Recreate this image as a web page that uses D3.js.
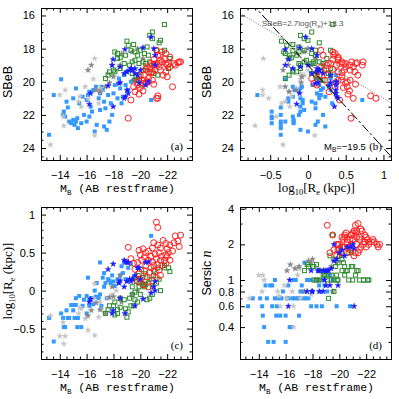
<!DOCTYPE html>
<html>
<head>
<meta charset="utf-8">
<script src="https://cdn.jsdelivr.net/npm/d3@7"></script>
<style>
  body { margin: 0; background: #fff; }
</style>
</head>
<body>
<div id="chart"></div>
<script>
// every row: [M_B, log10 Re (kpc), SBeB, Sersic n]
const blueSquares = [
  [-13.2, -0.36, 23.2, 0.6], [-13.55, -0.67, 20.8, 0.7], [-14.1, -0.3, 19.85, 0.7], [-14.25, -0.36, 22.0, 0.6],
  [-14.3, -0.48, 21.8, 0.5], [-14.4, -0.48, 22.1, 0.4], [-14.5, -0.26, 21.2, 0.9], [-14.6, -0.36, 21.55, 0.7],
  [-14.7, -0.36, 22.4, 0.3], [-14.85, -0.19, 22.5, 0.9], [-15.0, -0.19, 22.3, 0.9], [-15.1, -0.36, 22.6, 0.3],
  [-15.2, -0.19, 22.4, 1.0], [-15.3, -0.48, 22.2, 0.5], [-15.35, -0.36, 22.8, 0.6], [-15.45, -0.07, 21.3, 0.7],
  [-15.6, -0.48, 22.5, 0.5], [-15.7, -0.2, 20.9, 0.7], [-15.2, -0.1, 20.4, 0.7], [-15.0, -0.26, 21.0, 0.6],
  [-16.0, -0.07, 21.1, 0.3], [-16.1, 0.17, 20.8, 0.7], [-16.3, -0.1, 21.5, 0.4], [-16.2, -0.2, 22.1, 0.7],
  [-16.4, -0.1, 21.8, 0.4], [-16.5, -0.18, 20.5, 0.7], [-16.6, 0.0, 23.0, 1.0], [-16.75, 0.1, 22.6, 1.0],
  [-16.9, -0.1, 21.0, 0.7], [-17.0, 0.37, 20.7, 0.5], [-17.1, -0.2, 20.3, 0.8], [-17.2, 0.17, 20.5, 0.9],
  [-17.3, 0.05, 21.2, 0.8], [-17.4, 0.1, 21.6, 1.4], [-17.6, 0.15, 20.8, 1.0], [-17.7, 0.13, 22.4, 0.7],
  [-17.8, 0.1, 21.3, 1.0], [-17.9, 0.2, 22.0, 0.6], [-17.5, -0.1, 22.9, 0.7], [-18.0, 0.12, 20.7, 0.8],
  [-18.1, 0.06, 20.2, 1.0], [-18.3, 0.15, 21.0, 0.6], [-18.4, 0.1, 19.8, 1.0], [-18.5, 0.2, 20.4, 0.9],
  [-18.7, 0.23, 20.9, 0.6], [-18.8, 0.37, 19.6, 1.0], [-18.9, 0.15, 20.2, 0.9], [-19.0, 0.13, 19.4, 1.2],
  [-19.1, 0.3, 20.5, 0.8], [-19.3, 0.35, 20.0, 1.1], [-19.5, 0.17, 19.9, 1.0], [-18.6, 0.32, 21.3, 0.8],
  [-19.8, 0.3, 19.8, 0.6], [-20.8, 0.72, 21.1, 0.6], [-16.7, -0.08, 20.3, 0.7], [-17.0, -0.05, 21.7, 0.7],
  [-16.0, -0.3, 22.4, 0.5], [-15.8, -0.12, 22.0, 0.8], [-16.2, -0.12, 20.6, 0.9], [-17.3, 0.23, 22.7, 0.7]
];

const lightStars = [
  [-13.3, -0.33, 23.8, 0.7], [-14.0, -0.6, 20.8, 1.1], [-14.25, -0.42, 22.1, 0.8], [-14.4, -0.6, 20.5, 1.0],
  [-14.3, -0.7, 22.66, 1.1], [-15.5, -0.22, 20.9, 0.73], [-15.4, -0.3, 21.2, 0.8], [-15.6, -0.24, 21.5, 0.6],
  [-16.6, -0.59, 18.6, 0.6], [-16.6, 0.09, 23.24, 0.4], [-16.5, -0.1, 19.84, 0.8], [-17.0, -0.15, 20.4, 1.25],
  [-17.1, -0.25, 20.6, 0.7], [-17.6, -0.1, 19.5, 0.8], [-17.9, -0.05, 19.6, 0.75], [-16.1, -0.52, 21.0, 0.7],
  [-15.9, -0.37, 20.3, 0.9], [-16.9, -0.35, 21.3, 1.1], [-18.2, 0.0, 19.3, 1.0]
];

const darkStars = [
  [-16.1, -0.33, 19.3, 1.2], [-16.35, -0.26, 19.0, 1.35], [-16.7, -0.16, 20.5, 1.25], [-17.0, -0.25, 20.6, 1.3],
  [-17.7, -0.09, 20.06, 1.45], [-17.9, 0.05, 19.0, 1.4], [-18.6, -0.15, 18.3, 1.2], [-19.4, -0.05, 18.2, 1.3],
  [-19.8, 0.0, 18.0, 1.4], [-20.2, 0.1, 18.6, 1.6], [-18.5, 0.2, 19.0, 1.0], [-19.5, 0.15, 19.9, 0.8],
  [-17.4, -0.3, 20.3, 0.8], [-18.0, -0.08, 19.7, 1.5]
];

const greenSquares = [
  [-21.8, 0.33, 16.55, 1.0], [-21.4, 0.15, 17.65, 1.2], [-21.8, 0.3, 18.1, 1.0], [-20.7, -0.1, 17.2, 1.7],
  [-20.9, -0.05, 17.4, 1.3], [-19.0, -0.35, 17.55, 1.1], [-19.1, -0.28, 17.8, 1.0], [-19.5, -0.2, 17.75, 2.4],
  [-19.6, -0.12, 18.2, 1.5], [-20.0, -0.05, 18.1, 1.6], [-20.3, 0.05, 18.3, 1.4], [-20.6, 0.1, 18.4, 1.2],
  [-18.1, -0.32, 18.2, 1.3], [-18.3, -0.3, 18.3, 1.35], [-18.3, -0.25, 18.6, 1.0], [-18.5, -0.22, 18.55, 1.0],
  [-18.0, -0.2, 19.3, 1.3], [-18.1, -0.15, 19.4, 1.0], [-18.5, -0.1, 19.2, 1.2], [-18.8, -0.12, 18.9, 1.1],
  [-19.2, -0.1, 19.0, 0.7], [-19.4, -0.05, 18.8, 1.1], [-19.6, -0.02, 18.7, 1.0], [-19.9, 0.05, 18.9, 1.4],
  [-20.2, 0.07, 18.8, 1.2], [-20.4, 0.08, 18.9, 1.1], [-20.7, 0.15, 18.8, 1.0], [-21.0, 0.2, 18.9, 1.3],
  [-19.4, 0.05, 19.5, 1.0], [-19.6, 0.17, 19.9, 0.8], [-19.7, 0.12, 19.7, 1.3], [-19.9, 0.1, 19.6, 1.0],
  [-20.2, 0.17, 19.3, 1.5], [-20.4, 0.22, 19.3, 1.3], [-17.4, -0.3, 19.8, 1.2], [-17.6, -0.25, 19.6, 1.35],
  [-17.7, -0.2, 19.4, 1.3], [-20.1, 0.28, 20.2, 1.9], [-21.0, 0.27, 19.5, 1.0], [-21.3, 0.3, 19.6, 1.2],
  [-22.1, 0.3, 19.2, 1.0], [-19.84, 0.2, 19.9, 1.0], [-20.5, -0.12, 17.9, 1.2], [-19.3, -0.2, 18.1, 1.6],
  [-18.9, -0.24, 18.4, 1.1], [-21.5, 0.0, 17.5, 1.0], [-20.9, 0.05, 17.0, 1.7], [-19.8, -0.15, 18.4, 1.1],
  [-21.2, 0.1, 18.1, 1.1], [-22.2, 0.25, 18.6, 1.0]
];

const redCircles = [
  [-21.2, 0.90, 21.0, 2.9], [-21.3, 0.83, 20.85, 2.6], [-22.6, 0.72, 19.0, 2.1], [-23.0, 0.73, 18.8, 2.0],
  [-22.8, 0.65, 18.85, 2.0], [-22.5, 0.63, 18.9, 2.2], [-22.9, 0.58, 18.8, 1.9], [-22.2, 0.60, 19.1, 2.1],
  [-21.9, 0.62, 19.4, 2.4], [-21.7, 0.66, 19.6, 2.6], [-21.5, 0.56, 19.3, 2.2], [-22.0, 0.55, 19.0, 2.3],
  [-21.0, 0.63, 20.15, 2.5], [-20.9, 0.56, 19.9, 2.4], [-19.1, 0.57, 22.2, 2.9], [-19.9, 0.53, 20.75, 1.8],
  [-20.2, 0.55, 20.55, 2.3], [-20.4, 0.50, 20.1, 2.4], [-20.6, 0.52, 20.0, 2.2], [-20.0, 0.47, 20.35, 2.0],
  [-20.3, 0.44, 19.9, 1.9], [-20.8, 0.45, 19.45, 2.2], [-21.1, 0.48, 19.3, 2.6], [-21.4, 0.50, 19.1, 3.0],
  [-21.6, 0.45, 18.8, 2.7], [-21.9, 0.47, 18.9, 2.1], [-22.1, 0.50, 18.9, 2.2], [-21.8, 0.40, 18.6, 2.0],
  [-21.5, 0.40, 18.7, 2.3], [-21.2, 0.42, 18.9, 2.5], [-20.9, 0.38, 19.0, 2.4], [-20.6, 0.40, 19.4, 2.1],
  [-20.1, 0.40, 19.9, 1.7], [-19.8, 0.37, 20.05, 2.0], [-19.5, 0.36, 20.3, 2.4], [-20.4, 0.33, 19.25, 2.3],
  [-20.8, 0.30, 18.9, 1.8], [-21.0, 0.33, 18.65, 2.2], [-21.3, 0.34, 18.4, 2.0], [-21.6, 0.33, 18.2, 1.9],
  [-21.9, 0.36, 18.3, 2.1], [-22.2, 0.40, 18.5, 2.0], [-21.4, 0.27, 18.9, 1.7], [-21.1, 0.25, 19.0, 1.6],
  [-20.7, 0.24, 19.2, 1.9], [-20.3, 0.26, 19.6, 2.2], [-19.9, 0.22, 19.9, 2.0], [-20.0, 0.15, 19.6, 1.8],
  [-19.8, 0.12, 20.2, 1.6], [-20.5, 0.18, 19.1, 2.5], [-21.2, 0.17, 18.1, 1.7], [-21.5, 0.20, 18.4, 1.8],
  [-20.2, 0.08, 20.1, 1.9], [-20.9, 0.13, 19.4, 2.0], [-19.6, 0.28, 20.6, 1.8], [-20.6, 0.05, 19.8, 1.7],
  [-22.4, 0.52, 20.3, 2.1], [-22.0, 0.45, 19.7, 1.9], [-21.3, 0.60, 21.0, 2.3], [-19.3, 0.42, 21.1, 1.7]
];

const blueStars = [
  [-20.8, -0.03, 17.3, 1.9], [-18.85, -0.3, 18.05, 1.2], [-20.2, -0.11, 17.95, 1.8], [-21.0, 0.05, 18.0, 2.0],
  [-21.1, 0.12, 18.4, 1.85], [-17.97, -0.26, 18.65, 0.8], [-18.5, -0.1, 19.1, 1.2], [-18.8, 0.05, 19.5, 1.2],
  [-19.0, 0.12, 19.4, 1.2], [-19.2, 0.15, 19.3, 1.2], [-19.3, 0.12, 19.2, 0.9], [-19.4, 0.15, 19.3, 1.25],
  [-19.6, 0.2, 19.5, 1.45], [-19.8, 0.3, 19.6, 1.5], [-20.0, 0.15, 19.3, 1.7], [-17.6, 0.28, 20.24, 0.8],
  [-17.98, 0.35, 21.5, 0.8], [-18.4, 0.1, 20.1, 1.2], [-18.5, 0.13, 20.05, 0.8], [-19.0, 0.37, 20.5, 0.9],
  [-19.1, 0.37, 20.7, 1.2], [-18.8, 0.4, 21.0, 0.8], [-18.9, 0.38, 20.9, 1.0], [-16.3, -0.11, 20.7, 1.0],
  [-16.2, -0.15, 21.35, 0.6], [-19.9, 0.3, 20.06, 0.9], [-20.6, 0.38, 20.0, 1.9], [-20.4, 0.37, 20.2, 1.6],
  [-21.1, 0.0, 19.0, 0.6], [-17.9, -0.3, 19.0, 1.2], [-19.6, -0.2, 19.2, 2.0]
];

// tick labels
const mbTicks = [-14, -16, -18, -20, -22];
const sbTicks = [16, 18, 20, 22, 24];
const reTicks = [-0.5, 0, 0.5, 1];
const nTicks = [0.4, 0.6, 0.8, 1, 2, 4];
const nMinor = [0.3, 0.5, 0.7, 0.9, 1.5, 3];

// fit lines in panel (b)
const fitSlope = 2.7, fitZero = 18.3;
const cutMag = -19.5, cutZero = 38.5;

const W = 151, H = 152;

let xMB = d3.scaleLinear().domain([-12.6, -23.85]).range([0, W]);
let ySB = d3.scaleLinear().domain([15.55, 24.72]).range([0, H]);
let xRe = d3.scaleLinear().domain([-0.9, 1.1]).range([0, W]);
let yRe = d3.scaleLinear().domain([-0.9, 1.1]).range([H, 0]);
let yN = d3.scaleLog().domain([0.215, 4.14]).range([H, 0]);

let mbMinor = d3.range(-13, -23.6, -0.5).filter(v => v % 2 !== 0);
let sbMinor = d3.range(16, 24.6, 0.5).filter(v => v % 2 !== 0);
let reMinor = d3.range(-8, 11, 1).filter(v => v % 5 !== 0).map(v => v / 10);

const svg = d3.select('#chart').append('svg')
  .attr('width', 399)
  .attr('height', 399)
  .style('font-family', 'Liberation Sans, Arial, sans-serif');

const panels = [
  { tag: '(a)', left: 41, top: 8, x: xMB, y: ySB, xv: d => d[0], yv: d => d[2],
    xt: mbTicks, xm: mbMinor, yt: sbTicks, ym: sbMinor, xTitle: 'mb', yTitle: 'sb' },
  { tag: '(b)', left: 240, top: 8, x: xRe, y: ySB, xv: d => d[1], yv: d => d[2],
    xt: reTicks, xm: reMinor, yt: sbTicks, ym: sbMinor, xTitle: 're', yTitle: 'sb' },
  { tag: '(c)', left: 41, top: 207, x: xMB, y: yRe, xv: d => d[0], yv: d => d[1],
    xt: mbTicks, xm: mbMinor, yt: reTicks, ym: reMinor, xTitle: 'mb', yTitle: 're' },
  { tag: '(d)', left: 240, top: 207, x: xMB, y: yN, xv: d => d[0], yv: d => d[3],
    xt: mbTicks, xm: mbMinor, yt: nTicks, ym: nMinor, xTitle: 'mb', yTitle: 'n' }
];

const groups = [
  { data: blueSquares, type: 'fill', color: '#3399ff' },
  { data: lightStars, type: 'star', color: '#c4c4c4', size: 10 },
  { data: darkStars, type: 'star', color: '#858585', size: 10 },
  { data: greenSquares, type: 'open', color: '#2e8b2e' },
  { data: redCircles, type: 'circle', color: '#ff1f1f' },
  { data: blueStars, type: 'star', color: '#1a1aff', size: 10 }
];

const fmt = d3.format('~g');

function drawAxes(g, p) {
  let tidy = a => a.select('.domain').remove();
  let style = a => a.attr('font-family', 'Liberation Sans, Arial, sans-serif').attr('font-size', 11);

  g.append('g').attr('transform', `translate(0,${H})`)
    .call(d3.axisBottom(p.x).tickValues(p.xt).tickSize(-5).tickSizeOuter(0).tickPadding(11).tickFormat(fmt))
    .call(tidy).call(style);
  g.append('g').attr('transform', `translate(0,${H})`)
    .call(d3.axisBottom(p.x).tickValues(p.xm).tickSize(-2.5).tickSizeOuter(0).tickFormat(''))
    .call(tidy);
  g.append('g')
    .call(d3.axisTop(p.x).tickValues(p.xt).tickSize(-5).tickSizeOuter(0).tickFormat(''))
    .call(tidy);
  g.append('g')
    .call(d3.axisTop(p.x).tickValues(p.xm).tickSize(-2.5).tickSizeOuter(0).tickFormat(''))
    .call(tidy);

  g.append('g')
    .call(d3.axisLeft(p.y).tickValues(p.yt).tickSize(-5).tickSizeOuter(0).tickPadding(6).tickFormat(fmt))
    .call(tidy).call(style);
  g.append('g')
    .call(d3.axisLeft(p.y).tickValues(p.ym).tickSize(-2.5).tickSizeOuter(0).tickFormat(''))
    .call(tidy);
  g.append('g').attr('transform', `translate(${W},0)`)
    .call(d3.axisRight(p.y).tickValues(p.yt).tickSize(-5).tickSizeOuter(0).tickFormat(''))
    .call(tidy);
  g.append('g').attr('transform', `translate(${W},0)`)
    .call(d3.axisRight(p.y).tickValues(p.ym).tickSize(-2.5).tickSizeOuter(0).tickFormat(''))
    .call(tidy);

  g.append('rect')
    .attr('x', 0.5).attr('y', 0.5)
    .attr('width', W).attr('height', H)
    .attr('fill', 'none')
    .attr('stroke', '#000')
    .attr('stroke-width', 1);
}

function xTitle(g, kind) {
  let t = g.append('text')
    .attr('x', W / 2 + 1)
    .attr('y', H + 32)
    .attr('text-anchor', 'middle')
    .attr('fill', '#000');
  if (kind === 'mb') {
    t.attr('font-family', 'Liberation Mono, Courier New, monospace').attr('font-size', 11.5);
    t.append('tspan').text('M');
    t.append('tspan').attr('font-size', 7.5).attr('dy', 2.5).text('B');
    t.append('tspan').attr('dy', -2.5).text(' (AB restframe)');
  } else {
    reTitle(t);
  }
}

function reTitle(t) {
  t.attr('font-family', 'Liberation Serif, Times New Roman, serif').attr('font-size', 13);
  t.append('tspan').text('log');
  t.append('tspan').attr('font-size', 8.5).attr('dy', 3).text('10');
  t.append('tspan').attr('dy', -3).text('[R');
  t.append('tspan').attr('font-size', 8.5).attr('dy', 3).text('e');
  t.append('tspan').attr('dy', -3).text(' (kpc)]');
}

function yTitle(g, kind) {
  let cy = kind === 'n' ? H / 2 - 10 : H / 2 - 2;
  let t = g.append('text')
    .attr('transform', `translate(-29,${cy}) rotate(-90)`)
    .attr('text-anchor', 'middle')
    .attr('fill', '#000');
  if (kind === 'sb') {
    t.attr('font-size', 12.5).text('SBeB');
  } else if (kind === 'n') {
    t.attr('font-size', 12.5);
    t.append('tspan').text('Sersic ');
    t.append('tspan').attr('font-family', 'Liberation Serif, serif').attr('font-style', 'italic').attr('font-size', 14).text('n');
  } else {
    reTitle(t);
  }
}

function drawMarks(g, p) {
  groups.forEach(gr => {
    let sel = g.append('g').selectAll(null).data(gr.data).enter();
    let px = d => p.x(p.xv(d)), py = d => p.y(p.yv(d));
    if (gr.type === 'fill') {
      sel.append('rect')
        .attr('x', d => px(d) - 2).attr('y', d => py(d) - 2)
        .attr('width', 4).attr('height', 4)
        .attr('fill', gr.color);
    } else if (gr.type === 'open') {
      sel.append('rect')
        .attr('x', d => px(d) - 2).attr('y', d => py(d) - 2)
        .attr('width', 4).attr('height', 4)
        .attr('fill', 'none')
        .attr('stroke', gr.color)
        .attr('stroke-width', 1);
    } else if (gr.type === 'circle') {
      sel.append('circle')
        .attr('cx', px).attr('cy', py)
        .attr('r', 3)
        .attr('fill', 'none')
        .attr('stroke', gr.color)
        .attr('stroke-width', 1);
    } else {
      let star = d3.symbol(d3.symbolStar, gr.size)();
      sel.append('path')
        .attr('d', star)
        .attr('transform', d => `translate(${px(d)},${py(d)})`)
        .attr('fill', gr.color)
        .attr('stroke', gr.color)
        .attr('stroke-width', 0.5);
    }
  });
}

function drawFits(g, p) {
  g.append('clipPath').attr('id', 'clipb')
    .append('rect').attr('width', W).attr('height', H);

  let ends = xRe.domain();
  let fitLine = d3.line()
    .x(r => p.x(r))
    .y(r => p.y(fitSlope * r + fitZero));
  g.append('path')
    .attr('d', fitLine(ends))
    .attr('clip-path', 'url(#clipb)')
    .attr('fill', 'none')
    .attr('stroke', '#666')
    .attr('stroke-width', 0.9)
    .attr('stroke-dasharray', '1,1.6');

  let cutLine = d3.line()
    .x(r => p.x(r))
    .y(r => p.y(cutMag + 5 * r + cutZero));
  g.append('path')
    .attr('d', cutLine(ends))
    .attr('clip-path', 'url(#clipb)')
    .attr('fill', 'none')
    .attr('stroke', '#000')
    .attr('stroke-width', 1)
    .attr('stroke-dasharray', '9,2.5,2.5,2.5');

  let t = g.append('text')
    .attr('x', 22).attr('y', 18)
    .attr('font-size', 8)
    .attr('fill', '#555');
  t.append('tspan').text('SBeB=2.7log(R');
  t.append('tspan').attr('font-size', 5.5).attr('dy', 2).text('e');
  t.append('tspan').attr('dy', -2).text(')+18.3');

  let m = g.append('text')
    .attr('x', 84).attr('y', 142)
    .attr('font-size', 9.5)
    .attr('fill', '#000');
  m.append('tspan').text('M');
  m.append('tspan').attr('font-size', 6.5).attr('dy', 2).text('B');
  m.append('tspan').attr('dy', -2).text('=\u2212' + Math.abs(cutMag));
}

panels.forEach(p => {
  let g = svg.append('g').attr('transform', `translate(${p.left},${p.top})`);
  drawMarks(g, p);
  if (p.tag === '(b)') drawFits(g, p);
  drawAxes(g, p);
  xTitle(g, p.xTitle);
  yTitle(g, p.yTitle);
  g.append('text')
    .attr('x', W - 9).attr('y', H - 10)
    .attr('text-anchor', 'end')
    .attr('font-family', 'Liberation Serif, Times New Roman, serif')
    .attr('font-size', 11)
    .attr('fill', '#000')
    .text(p.tag);
});
</script>
</body>
</html>
